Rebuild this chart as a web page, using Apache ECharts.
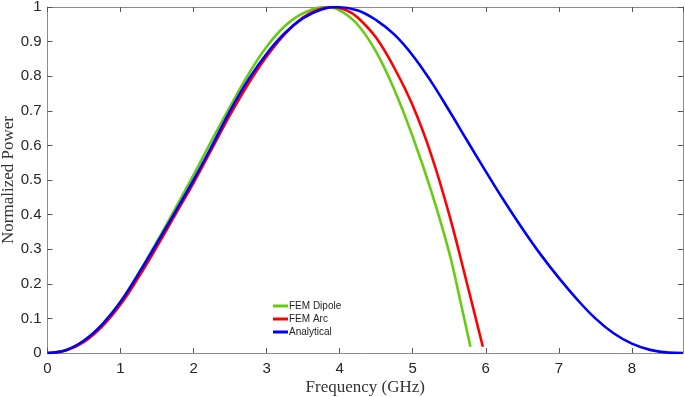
<!DOCTYPE html>
<html>
<head>
<meta charset="utf-8">
<script src="https://cdn.jsdelivr.net/npm/echarts@6/dist/echarts.min.js"></script>
<style>
  html, body { margin: 0; padding: 0; background: #fff; }
  #chart { width: 685px; height: 397px; }
</style>
</head>
<body>
<div id="chart"></div>
<script>
// values: [frequency GHz, normalized power]
var femDipole = [
  [0, 0], [0.25, 0.008], [0.5, 0.036], [0.75, 0.083], [1.0, 0.148], [1.25, 0.232],
  [1.5, 0.323], [1.75, 0.418], [2.0, 0.515], [2.25, 0.615], [2.5, 0.712], [2.75, 0.805],
  [3.0, 0.885], [3.25, 0.945], [3.5, 0.982], [3.8, 1.0], [4.0, 0.99], [4.25, 0.948],
  [4.5, 0.87], [4.75, 0.76], [5.0, 0.625], [5.25, 0.47], [5.5, 0.29], [5.65, 0.152],
  [5.79, 0.018]
]
var femArc = [
  [0, 0], [0.25, 0.007], [0.5, 0.032], [0.75, 0.077], [1.0, 0.14], [1.25, 0.22],
  [1.5, 0.308], [1.75, 0.4], [2.0, 0.492], [2.25, 0.59], [2.5, 0.688], [2.75, 0.778],
  [3.0, 0.857], [3.25, 0.922], [3.5, 0.97], [3.7, 0.992], [3.89, 1.0], [4.1, 0.99],
  [4.25, 0.969], [4.5, 0.911], [4.75, 0.823], [5.0, 0.715], [5.25, 0.575], [5.5, 0.4],
  [5.75, 0.195], [5.96, 0.018]
]
var analytical = [
  [0, 0], [0.25, 0.008], [0.5, 0.036], [0.75, 0.083], [1.0, 0.148], [1.25, 0.23],
  [1.5, 0.318], [1.75, 0.408], [2.0, 0.5], [2.25, 0.598], [2.5, 0.7], [2.75, 0.79],
  [3.0, 0.865], [3.25, 0.925], [3.5, 0.968], [3.75, 0.993], [3.96, 1.0], [4.25, 0.99],
  [4.5, 0.962], [4.75, 0.92], [5.0, 0.86], [5.25, 0.785], [5.5, 0.7], [5.75, 0.612],
  [6.0, 0.525], [6.25, 0.44], [6.5, 0.36], [6.75, 0.285], [7.0, 0.217], [7.25, 0.155],
  [7.5, 0.1], [7.75, 0.057], [8.0, 0.027], [8.25, 0.009], [8.5, 0.001], [8.7, 0]
]
var seriesNames = ['FEM Dipole', 'FEM Arc', 'Analytical']
var seriesColors = ['#66cc11', '#ff0000', '#0000ff']

var axisGray = '#8c8c8c'
var labelColor = '#262626'

var chart = echarts.init(document.getElementById('chart'))

function boxAxis(extra) {
  return Object.assign({
    type: 'value',
    nameMoveOverlap: false,
    axisLine: { show: true, onZero: false, lineStyle: { color: axisGray, width: 1 } },
    axisTick: { show: true, inside: true, length: 5, lineStyle: { color: '#555' } },
    splitLine: { show: false }
  }, extra)
}

chart.setOption({
  animation: false,
  grid: { left: 47.5, right: 2, top: 7, bottom: 44, outerBoundsMode: 'none' },
  legend: {
    data: seriesNames,
    orient: 'vertical',
    left: 268,
    top: 296,
    itemWidth: 15,
    itemHeight: 3,
    itemGap: 3,
    icon: 'rect',
    textStyle: { fontFamily: 'Liberation Sans', fontSize: 10, color: '#222', padding: [0, 0, 0, -4] }
  },
  xAxis: [
    boxAxis({
      min: 0, max: 8.7, interval: 1,
      name: 'Frequency (GHz)',
      nameLocation: 'middle',
      nameGap: 26,
      nameTextStyle: { fontFamily: 'Liberation Serif', fontSize: 17, color: '#333' },
      axisLabel: { showMaxLabel: false, margin: 8, color: labelColor, fontFamily: 'Liberation Sans', fontSize: 15 }
    }),
    boxAxis({
      position: 'top', min: 0, max: 8.7, interval: 1,
      axisLabel: { show: false }
    })
  ],
  yAxis: [
    boxAxis({
      min: 0, max: 1, interval: 0.1,
      name: 'Normalized Power',
      nameLocation: 'middle',
      nameGap: 30,
      nameTextStyle: { fontFamily: 'Liberation Serif', fontSize: 17, color: '#333' },
      axisLabel: { margin: 6, color: labelColor, fontFamily: 'Liberation Sans', fontSize: 15 }
    }),
    boxAxis({
      position: 'right', min: 0, max: 1, interval: 0.1,
      axisLabel: { show: false }
    })
  ],
  series: [femDipole, femArc, analytical].map(function(d, i) {
    return {
      name: seriesNames[i],
      type: 'line',
      data: d,
      smooth: 0.4,
      showSymbol: false,
      color: seriesColors[i],
      lineStyle: { width: 2.6, color: seriesColors[i] }
    }
  })
})
</script>
</body>
</html>
